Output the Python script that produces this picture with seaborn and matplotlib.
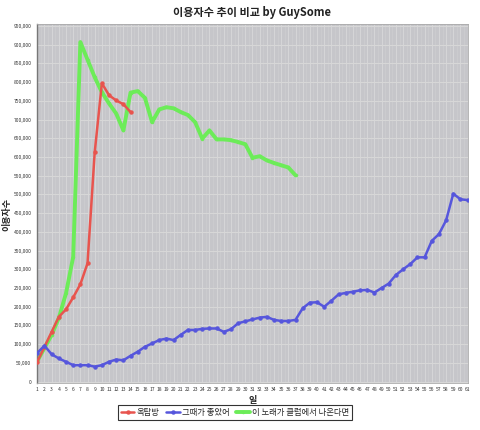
import numpy as np
import pandas as pd
import matplotlib
matplotlib.use("Agg")
import matplotlib.pyplot as plt
import seaborn as sns
from matplotlib.ticker import FuncFormatter, MultipleLocator

# ---- data (values in persons) ----
series_names = ["옥탑방", "그때가 좋았어", "이 노래가 클럽에서 나온다면"]
red_vals = [53, 93, 133, 173, 193, 225, 260, 316, 612, 797, 765, 751, 741, 720]
blue_vals = [77, 96, 73, 62, 53, 44, 44, 44, 40, 44, 53, 59, 57, 69, 80, 93, 102,
             111, 115, 111, 125, 138, 138, 141, 142, 142, 133, 140, 156, 161, 166,
             171, 173, 165, 162, 162, 165, 196, 211, 212, 200, 216, 233, 237, 240,
             244, 245, 238, 250, 262, 285, 300, 314, 332, 332, 376, 394, 431, 502,
             487, 485]
green_vals = [55, 90, 125, 170, 236, 333, 907, 860, 813, 773, 743, 716, 671, 772,
              776, 758, 693, 727, 733, 730, 720, 712, 693, 649, 671, 647, 647, 645,
              640, 634, 598, 602, 591, 584, 578, 572, 551]
x_ticks = list(range(1, 62))
y_ticks = list(range(0, 950001, 50000))

colors = {"옥탑방": "#e8544e", "그때가 좋았어": "#5656dc", "이 노래가 클럽에서 나온다면": "#6cec58"}

def frame(name, vals):
    return pd.DataFrame({"일": np.arange(1, len(vals) + 1),
                         "이용자수": np.array(vals) * 1000,
                         "series": name})

df_red = frame(series_names[0], red_vals)
df_blue = frame(series_names[1], blue_vals)
df_green = frame(series_names[2], green_vals)

sns.set_style("white")
plt.rcParams["font.family"] = ["Noto Sans CJK KR", "DejaVu Sans"]

fig = plt.figure(figsize=(4.8, 4.3), dpi=100)
ax = fig.add_axes([0.077, 0.109, 0.898, 0.835])
ax.set_facecolor("#c6c6ca")

sns.lineplot(data=df_green, x="일", y="이용자수", color=colors[series_names[2]],
             linewidth=2.8, marker="o", markersize=2.5, markeredgewidth=0,
             ax=ax, zorder=2, label=series_names[2])
sns.lineplot(data=df_red, x="일", y="이용자수", color=colors[series_names[0]],
             linewidth=1.8, marker="o", markersize=3.2, markeredgewidth=0,
             ax=ax, zorder=3, label=series_names[0])
sns.lineplot(data=df_blue, x="일", y="이용자수", color=colors[series_names[1]],
             linewidth=1.8, marker="o", markersize=3.2, markeredgewidth=0,
             ax=ax, zorder=4, label=series_names[1])

ax.set_xlim(0.95, 61.05)
ax.set_ylim(-4000, 955000)
ax.set_xticks(x_ticks)
ax.set_xticklabels([str(v) for v in x_ticks], fontsize=3.6, color="#333333")
ax.set_yticks(y_ticks)
ax.yaxis.set_major_formatter(FuncFormatter(lambda v, p: f"{int(v):,}"))
ax.tick_params(axis="y", labelsize=3.6, colors="#333333", length=0, pad=4)
ax.tick_params(axis="x", length=0, pad=3)
ax.set_axisbelow(True)
ax.xaxis.set_minor_locator(MultipleLocator(0.5))
ax.grid(True, which="major", axis="y", color="#d8d8d8", linewidth=0.7)
ax.grid(True, which="major", axis="x", color="#d8d8da", linewidth=0.6)
ax.grid(True, which="minor", axis="x", color="#d0d0d2", linewidth=0.4)
ax.tick_params(which="minor", length=0)
for side in ["top", "right"]:
    ax.spines[side].set_color("#aaaaaa")
    ax.spines[side].set_linewidth(0.6)
ax.spines["left"].set_color("#777777")
ax.spines["left"].set_linewidth(1.0)
ax.spines["bottom"].set_color("#aaaaaa")
ax.spines["bottom"].set_linewidth(0.6)

ax.set_xlabel("일", fontsize=6.5, fontweight="bold")
ax.xaxis.set_label_coords(0.5, -0.035)
ax.set_ylabel("이용자수", fontsize=6.5, fontweight="bold")
ax.yaxis.set_label_coords(-0.06, 0.47)
fig.suptitle("이용자수 추이 비교 by GuySome", x=0.525, y=0.985,
             fontsize=8, fontweight="bold", color="#222222")

# legend in original order
handles, labels = ax.get_legend_handles_labels()
order = [labels.index(n) for n in series_names]
ax.legend([handles[i] for i in order], [labels[i] for i in order],
          loc="center", bbox_to_anchor=(0.49, 0.04), bbox_transform=fig.transFigure,
          ncol=3, fontsize=6, frameon=True, fancybox=False, edgecolor="black",
          handlelength=1.6, handletextpad=0.3, columnspacing=0.8,
          borderpad=0.35)
ax.get_legend().get_frame().set_linewidth(0.8)

fig.savefig("out.png", dpi=100)
